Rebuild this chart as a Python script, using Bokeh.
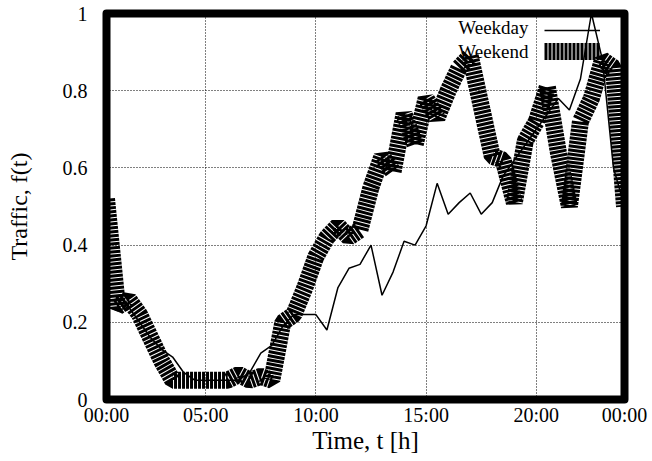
from bokeh.plotting import figure
from bokeh.models import Range1d, FixedTicker, Legend, LegendItem, Label, ColumnDataSource
from bokeh.core.properties import value
from bokeh.embed import file_html
from bokeh.resources import INLINE

# half-hour sample times (labels) and traffic values
times = ["00:30", "01:00", "01:30", "02:00", "02:30", "03:00", "03:30", "04:00",
         "04:30", "05:00", "05:30", "06:00", "06:30", "07:00", "07:30", "08:00",
         "08:30", "09:00", "09:30", "10:00", "10:30", "11:00", "11:30", "12:00",
         "12:30", "13:00", "13:30", "14:00", "14:30", "15:00", "15:30", "16:00",
         "16:30", "17:00", "17:30", "18:00", "18:30", "19:00", "19:30", "20:00",
         "20:30", "21:00", "21:30", "22:00", "22:30", "23:00", "23:30", "24:00"]

weekday = [0.24, 0.23, 0.24, 0.20, 0.16, 0.13, 0.11, 0.07, 0.05, 0.05,
           0.05, 0.05, 0.05, 0.07, 0.12, 0.14, 0.19, 0.22, 0.22, 0.22,
           0.18, 0.29, 0.34, 0.35, 0.40, 0.27, 0.33, 0.41, 0.40, 0.45,
           0.56, 0.48, 0.51, 0.535, 0.48, 0.51, 0.58, 0.62, 0.66, 0.70,
           0.74, 0.78, 0.75, 0.83, 1.00, 0.88, 0.60, 0.50]

weekend = [0.52, 0.24, 0.26, 0.22, 0.16, 0.10, 0.05, 0.05, 0.05, 0.05,
           0.05, 0.05, 0.065, 0.05, 0.06, 0.05, 0.20, 0.22, 0.29, 0.37,
           0.42, 0.45, 0.42, 0.44, 0.55, 0.63, 0.59, 0.74, 0.66, 0.78,
           0.73, 0.80, 0.86, 0.89, 0.76, 0.63, 0.62, 0.51, 0.67, 0.72,
           0.81, 0.64, 0.50, 0.72, 0.78, 0.88, 0.86, 0.50]

x_tick_pos = [0.5, 5, 10, 15, 20, 24]
x_tick_labels = ["00:00", "05:00", "10:00", "15:00", "20:00", "00:00"]
x_grid_pos = [5, 10, 15, 20]
y_ticks = [0, 0.2, 0.4, 0.6, 0.8, 1]
y_tick_labels = ["0", "0.2", "0.4", "0.6", "0.8", "1"]

def to_hours(s):
    h, m = s.split(":")
    return int(h) + int(m) / 60.0

hours = [to_hours(t) for t in times]
src = ColumnDataSource(dict(t=hours, weekday=weekday, weekend=weekend))

FONT = "Liberation Serif"

p = figure(width=650, height=459, output_backend="svg", toolbar_location=None,
           x_range=Range1d(hours[0], hours[-1]), y_range=Range1d(0, 1),
           min_border_left=106, min_border_right=26, min_border_top=13,
           min_border_bottom=60)
p.background_fill_color = "white"
p.border_fill_color = "white"
p.outline_line_color = "black"
p.outline_line_width = 8
p.outline_line_join = "round"

for ax in (p.xaxis[0], p.yaxis[0]):
    ax.axis_line_color = None
    ax.major_tick_line_color = None
    ax.minor_tick_line_color = None
    ax.major_label_text_font = FONT
    ax.major_label_text_font_size = "20px"
    ax.major_label_text_color = "black"
    ax.axis_label_text_font = FONT
    ax.axis_label_text_font_size = "24px"
    ax.axis_label_text_font_style = "normal"
    ax.axis_label_text_color = "black"

p.xaxis.ticker = FixedTicker(ticks=x_tick_pos)
p.xaxis.major_label_overrides = {k: v for k, v in zip(x_tick_pos, x_tick_labels)}
p.xaxis.axis_label = "Time, t [h]"
p.xaxis.axis_label_text_font_size = "25px"
p.xaxis.major_label_standoff = -2
p.xaxis.axis_label_standoff = -2

p.yaxis.ticker = FixedTicker(ticks=y_ticks)
p.yaxis.major_label_overrides = {k: v for k, v in zip(y_ticks, y_tick_labels)}
p.yaxis.axis_label = "Traffic, f(t)"
p.yaxis.major_label_standoff = 13
p.yaxis.axis_label_standoff = 28

p.xgrid.ticker = FixedTicker(ticks=x_grid_pos)
p.ygrid.ticker = FixedTicker(ticks=y_ticks[1:-1])
for g in (p.xgrid[0], p.ygrid[0]):
    g.grid_line_color = "black"
    g.grid_line_width = 1
    g.grid_line_dash = "1 2"

r1 = p.line(x="t", y="weekday", source=src, line_color="black", line_width=1.5)
r2 = p.line(x="t", y="weekend", source=src, line_color="black", line_width=17,
            line_dash="3 1", line_join="bevel")

legend = Legend(items=[LegendItem(label=value(""), renderers=[r1]),
                       LegendItem(label=value(""), renderers=[r2])],
                location=(438, 339), glyph_width=56, glyph_height=18, spacing=3,
                padding=0, margin=0, label_standoff=0, label_width=0,
                label_height=18, label_text_font_size="1px",
                border_line_alpha=0, background_fill_alpha=0)
p.add_layout(legend)

p.add_layout(Label(x=422, y=372, x_units="screen", y_units="screen", text="Weekday",
                   text_align="right", text_baseline="middle", text_font=FONT,
                   text_font_size="19px", text_color="black"))
p.add_layout(Label(x=422, y=348, x_units="screen", y_units="screen", text="Weekend",
                   text_align="right", text_baseline="middle", text_font=FONT,
                   text_font_size="19px", text_color="black"))

open("out.html", "w").write(file_html(p, INLINE))
